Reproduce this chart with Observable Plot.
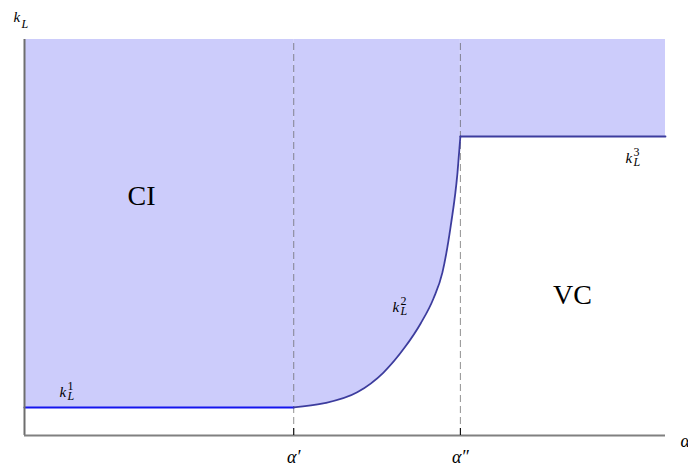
<!DOCTYPE html>
<html>
<head>
<meta charset="utf-8">
<script src="https://cdn.jsdelivr.net/npm/d3@7"></script>
<script src="https://cdn.jsdelivr.net/npm/@observablehq/plot@0.6"></script>
<style>
  body { margin: 0; background: #fff; }
</style>
</head>
<body>
<div id="chart"></div>
<script>
// Threshold values of α (normalised to the plotted range) and their tick labels
const alphaTicks = [0.42, 0.68];
const alphaTickLabels = ["α′", "α″"];

// Lower boundary of the CI region, in three pieces
const k1Alpha = [0, 0.42];
const k1Value = [0.071, 0.071];
const k2Alpha = [0.42, 0.466, 0.519, 0.560, 0.593, 0.618, 0.638, 0.652, 0.665, 0.6755, 0.68];
const k2Value = [0.071, 0.081, 0.109, 0.159, 0.222, 0.283, 0.346, 0.412, 0.530, 0.664, 0.755];
const k3Alpha = [0.68, 1];
const k3Value = [0.755, 0.755];

// Region names and curve labels (anchor points in data units)
const regionNames = ["CI", "VC"];
const regionAlpha = [0.1825, 0.855];
const regionK = [0.581, 0.331];
const curveSup = ["1", "2", "3"];
const curveAlpha = [0.0546, 0.574, 0.9376];
const curveK = [0.096, 0.311, 0.689];

const zip = (xs, ys) => xs.map((a, i) => ({alpha: a, k: ys[i]}));
const k1 = zip(k1Alpha, k1Value);
const k2 = zip(k2Alpha, k2Value);
const k3 = zip(k3Alpha, k3Value);
const regions = regionNames.map((name, i) => ({name, alpha: regionAlpha[i], k: regionK[i]}));
const curveLabels = curveSup.map((s, i) => ({s, alpha: curveAlpha[i], k: curveK[i]}));
const ticks = alphaTicks.map((a, i) => ({alpha: a, label: alphaTickLabels[i]}));

const serif = "'Liberation Serif', 'Times New Roman', serif";
const fillColor = "#ccccfb";
const darkBlue = "#3c3c9e";

const chart = Plot.plot({
  width: 688,
  height: 466,
  marginLeft: 24,
  marginRight: 23,
  marginTop: 39,
  marginBottom: 31,
  x: {domain: [0, 1], axis: null},
  y: {domain: [0, 1], axis: null},
  style: {fontFamily: serif, background: "white", color: "#000"},
  marks: [
    // shaded CI region: everything above the boundary
    Plot.areaY(k1, {x: "alpha", y1: "k", y2: 1, fill: fillColor}),
    Plot.areaY(k2, {x: "alpha", y1: "k", y2: 1, fill: fillColor, curve: "monotone-x"}),
    Plot.areaY(k3, {x: "alpha", y1: "k", y2: 1, fill: fillColor}),

    // dashed guides at α′ and α″
    Plot.ruleX(ticks, {x: "alpha", y1: 0, y2: 1, stroke: "#555", strokeOpacity: 0.65, strokeWidth: 1, strokeDasharray: "7,4"}),

    // boundary curves
    Plot.line(k1, {x: "alpha", y: "k", stroke: "#1515ee", strokeWidth: 2}),
    Plot.line(k2, {x: "alpha", y: "k", stroke: darkBlue, strokeWidth: 1.8, curve: "monotone-x"}),
    Plot.line(k3, {x: "alpha", y: "k", stroke: darkBlue, strokeWidth: 1.8}),

    // axes
    Plot.ruleX([0], {y1: 0, y2: 1, stroke: "#6e6e6e", strokeWidth: 2}),
    Plot.ruleY([0], {stroke: "#808080", strokeWidth: 2}),
    Plot.tickX(ticks, {x: "alpha", stroke: "#000", strokeWidth: 1, insetTop: 389}),
    Plot.text(ticks, {x: "alpha", y: 0, text: "label", dy: 27, lineAnchor: "bottom", fontSize: 18, fontStyle: "italic", fontFamily: serif}),

    // axis titles
    Plot.text(["k"], {x: 0, y: 1, text: d => d, dx: -11, dy: -18, textAnchor: "start", lineAnchor: "bottom", fontSize: 15, fontStyle: "italic", fontFamily: serif}),
    Plot.text(["L"], {x: 0, y: 1, text: d => d, dx: -3, dy: -12, textAnchor: "start", lineAnchor: "bottom", fontSize: 12, fontStyle: "italic", fontFamily: serif}),
    Plot.text(["α"], {x: 1, y: 0, text: d => d, dx: 15, dy: 11, textAnchor: "start", lineAnchor: "bottom", fontSize: 18, fontStyle: "italic", fontFamily: serif}),

    // region names
    Plot.text(regions, {x: "alpha", y: "k", text: "name", lineAnchor: "bottom", fontSize: 28, fontFamily: serif}),

    // curve labels k_L^i
    Plot.text(curveLabels, {x: "alpha", y: "k", text: () => "k", textAnchor: "start", lineAnchor: "bottom", fontSize: 15, fontStyle: "italic", fontFamily: serif}),
    Plot.text(curveLabels, {x: "alpha", y: "k", text: "s", dx: 8, dy: -7, textAnchor: "start", lineAnchor: "bottom", fontSize: 12, fontFamily: serif}),
    Plot.text(curveLabels, {x: "alpha", y: "k", text: () => "L", dx: 8, dy: 3, textAnchor: "start", lineAnchor: "bottom", fontSize: 12, fontStyle: "italic", fontFamily: serif})
  ]
});

document.getElementById("chart").appendChild(chart);
</script>
</body>
</html>
